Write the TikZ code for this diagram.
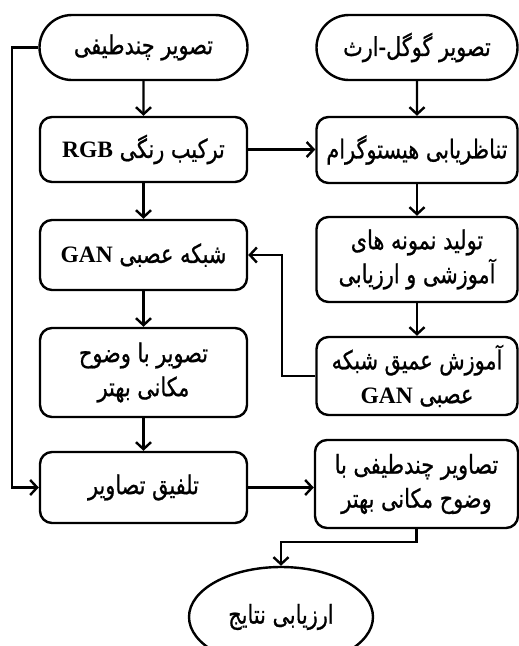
\documentclass[tikz,border=0pt]{standalone}
\usepackage{fontspec}
\setmainfont{Liberation Serif}
\newfontfamily\arabicfont[Script=Arabic,FakeStretch=0.8,FakeBold=0.8]{DejaVu Sans}
\TeXXeTstate=1
\usetikzlibrary{shapes.misc,shapes.geometric,arrows.meta}
\newcommand{\fa}[1]{{\arabicfont\beginR #1\endR}}
\newcommand{\lt}[1]{\beginL{\normalfont\fontsize{23.5}{34}\selectfont\bfseries #1}\endL}
\begin{document}
\begin{tikzpicture}[x=1pt,y=-1pt,
  every node/.style={font=\fontsize{26}{34}\selectfont, line width=2.4pt, inner sep=0pt, align=center},
  boxL/.style={draw, rounded corners=12pt, minimum width=207pt},
  boxR/.style={draw, rounded corners=12pt, minimum width=201pt},
  stad/.style={draw, rounded rectangle, minimum height=65pt},
  arr/.style={line width=2.4pt, -{Straight Barb[length=7pt,width=15pt,line width=2.4pt]}}]
\useasboundingbox (0,0) rectangle (519,646);
% left column
\node[stad, minimum width=208pt] (s1) at (143.5,47.5) {\fa{تصویر چندطیفی}};
\node[boxL, minimum height=65pt] (b1) at (143.5,149.5) {\fa{ترکیب رنگی \lt{RGB}}};
\node[boxL, minimum height=70pt] (b2) at (143.5,255) {\fa{شبکه عصبی \lt{GAN}}};
\node[boxL, minimum height=89pt] (b3) at (143.5,372.5) {\fa{تصویر با وضوح}\\\fa{مکانی بهتر}};
\node[boxL, minimum height=71pt] (b4) at (143.5,487.5) {\fa{تلفیق تصاویر}};
% right column
\node[stad, minimum width=201pt] (s2) at (417,47.5) {\fa{تصویر گوگل-ارث}};
\node[boxR, minimum height=66pt] (r1) at (417,150) {\fa{تناظریابی هیستوگرام}};
\node[boxR, minimum height=85pt] (r2) at (417,259.5) {\fa{تولید نمونه های}\\\fa{آموزشی و ارزیابی}};
\node[boxR, minimum height=78pt] (r3) at (417,376) {\fa{آموزش عمیق شبکه}\\\fa{عصبی \lt{GAN}}};
\node[draw, rounded corners=12pt, minimum width=203pt, minimum height=88pt] (r4) at (416.5,484) {\fa{تصاویر چندطیفی با}\\\fa{وضوح مکانی بهتر}};
\node[draw, ellipse, minimum width=184pt, minimum height=100pt] (e) at (281,617) {\raisebox{2pt}{\fa{ارزیابی نتایج}}};
% helper coordinates
\coordinate (k1) at (282,0);
\coordinate (k2) at (12,0);
\coordinate (k3) at (0,542);
% connectors
\draw[arr] (s1) -- (b1);
\draw[arr] (b1) -- (b2);
\draw[arr] (b2) -- (b3);
\draw[arr] (b3) -- (b4);
\draw[arr] (s2) -- (r1);
\draw[arr] (r1) -- (r2);
\draw[arr] (r2) -- (r3);
\draw[arr] (b1.east) -- (b1.east -| r1.west);
\draw[arr] (r3.west) -- (r3.west -| k1) -- (k1 |- b2.east) -- (b2.east);
\draw[arr] (s1.west) -- (s1.west -| k2) -- (k2 |- b4.west) -- (b4.west);
\draw[arr] (b4.east) -- (b4.east -| r4.west);
\draw[arr] (r4.south) -- (r4.south |- k3) -- (e.north |- k3) -- (e.north);
\end{tikzpicture}
\end{document}
